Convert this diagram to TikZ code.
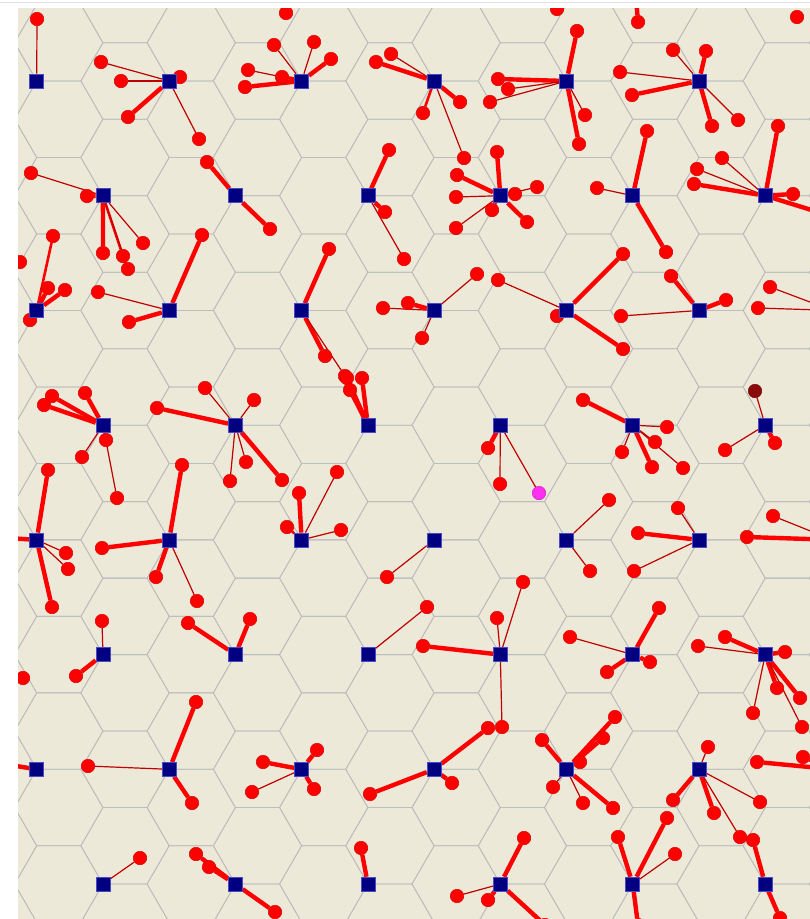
\documentclass[tikz,border=0pt]{standalone}
\definecolor{panel}{HTML}{ECE9D8}
\definecolor{hexline}{HTML}{BDBDBD}
\definecolor{station}{HTML}{000080}
\definecolor{stationrim}{HTML}{4A4AC8}
\definecolor{linkdark}{HTML}{C00000}
\definecolor{pickuser}{HTML}{FF30F0}
\definecolor{deaduser}{HTML}{8B0A0A}
\pgfdeclarelayer{base}
\pgfdeclarelayer{links}
\pgfdeclarelayer{top}
\pgfsetlayers{base,links,main,top}

\tikzset{
  bs/.style={rectangle,draw=stationrim,line width=0.6pt,fill=station,minimum size=14pt,inner sep=0pt},
  ue/.style={circle,fill=red,draw=red!85!black,line width=0.5pt,minimum size=13.5pt,inner sep=0pt},
  lk1/.style={draw=linkdark,line width=1.2pt},
  lk2/.style={draw=red,line width=2.6pt},
  lk3/.style={draw=red,line width=4.4pt},
}

\begin{document}
\begin{tikzpicture}[x=1pt,y=-1pt]
  \useasboundingbox (0,0) rectangle (810,919);

  \begin{pgfonlayer}{base}
    \fill[white] (0,0) rectangle (810,919);
    \fill[panel] (17.5,8) rectangle (810,919);
    % hexagonal cells
    \begin{scope}
      \clip (17.5,8) rectangle (810,919);
      \foreach \i in {0,...,13}{
        \foreach \j in {-2,...,12}{
          \pgfmathsetmacro\cx{-7.45+66.23*\i}
          \pgfmathsetmacro\cy{81+76.48*\j+38.24*mod(\i,2)}
          \draw[hexline,line width=0.8pt] (\cx,\cy) ++(0:44.15) -- ++(120:44.15) -- ++(180:44.15)
            -- ++(240:44.15) -- ++(300:44.15) -- ++(0:44.15) -- cycle;
        }
      }
    \end{scope}
  \end{pgfonlayer}

  % base stations (row r, column c)
  \begin{pgfonlayer}{top}
    \foreach \r in {0,...,7}{
      \foreach \c in {0,...,5}{
        \pgfmathsetmacro\bx{36.7+132.46*\c+66.23*mod(\r,2)}
        \pgfmathsetmacro\by{81+114.72*\r}
        \node[bs] (B\r\c) at (\bx,\by) {};
      }
    }
  \end{pgfonlayer}

  % stations just outside the panel
  \coordinate (T4) at (633.4,-33.7);
  \coordinate (R2) at (832.3,310.4);
  \coordinate (R4) at (832.3,539.8);
  \coordinate (R6) at (832.3,769.2);

  % users: station/x/y/link weight
  \foreach \b/\x/\y/\w [count=\n] in {
    B00/37/19/1,
    B01/101/62/1, B01/121/81/1, B01/128/117/3, B01/199/139/1, B01/180/77/2,
    B02/245/87/3, B02/248/70/1, B02/274/45/1, B02/282/77/3, B02/314/42/1, B02/331/59/3,
    B03/376/62/3, B03/391/54/1, B03/460/102/3, B03/423/113/2, B03/464/158/1,
    B04/577/31/3, B04/585/115/1, B04/579/144/3, B04/498/79/3, B04/508/89/1, B04/490/102/1,
    B05/673/50/1, B05/706/51/3, B05/620/72/1, B05/632/95/3, B05/712/126/3, B05/738/120/1,
    T4/638/22/3,
    B10/31/173/1, B10/87/196/3, B10/103/253/3, B10/123/256/2, B10/128/269/1, B10/143/243/1,
    B11/207/162/3, B11/270/229/3,
    B12/389/150/3, B12/385/212/3, B12/404/259/1,
    B13/497/152/3, B13/457/175/3, B13/456/197/1, B13/492/210/2, B13/456/228/1,
    B13/515/194/2, B13/537/187/1, B13/527/222/3,
    B14/647/131/3, B14/597/188/1, B14/666/252/3,
    B15/778/126/3, B15/722/158/1, B15/697/169/1, B15/694/184/3, B15/793/194/3, B15/818/212/3,
    B20/53/236/2, B20/48/288/3, B20/65/290/3, B20/30/320/2,
    B21/202/235/3, B21/98/292/1, B21/129/322/3,
    B22/329/249/3, B22/325/356/3, B22/345/376/1,
    B23/383/308/1, B23/408/303/3, B23/422/338/1, B23/477/274/1,
    B24/623/254/3, B24/623/349/3, B24/557/316/3, B24/498/280/1,
    B25/671/276/3, B25/726/300/3, B25/621/316/1,
    R2/770/287/1, R2/758/308/1,
    B30/52/396/3, B30/44/405/3, B30/85/393/3, B30/106/440/2, B30/82/457/1, B30/117/498/1,
    B31/157/408/3, B31/205/388/1, B31/254/400/1, B31/246/462/1, B31/230/481/1, B31/282/480/3,
    B32/347/378/3, B32/362/378/3, B32/350/390/3,
    B33/488/448/3, B33/500/484/1,
    B34/583/400/3, B34/667/427/1, B34/655/442/1, B34/622/452/1, B34/652/467/3, B34/683/468/1,
    B35/775/443/3, B35/725/450/1,
    B40/48/470/3, B40/52/607/3, B40/66/553/1, B40/68/569/1, B40/8/538/3,
    B41/182/465/3, B41/102/548/3, B41/156/577/3, B41/197/601/1,
    B42/299/493/3, B42/287/527/2, B42/337/472/1, B42/341/530/1,
    B43/387/577/1,
    B44/609/500/1, B44/590/571/1,
    B45/678/508/1, B45/638/533/3, B45/634/571/1,
    R4/747/537/3, R4/773/516/1,
    B50/102/621/1, B50/76/676/3,
    B51/188/623/3, B51/250/619/3,
    B52/427/607/1,
    B53/423/646/3, B53/497/618/1, B53/523/582/1, B53/502/727/1,
    B54/659/608/3, B54/570/637/1, B54/607/672/3, B54/650/662/3,
    B55/725/637/3, B55/698/646/1, B55/785/652/3, B55/777/688/3, B55/800/698/3, B55/753/713/1, B55/802/727/1,
    B60/10/765/3,
    B61/88/766/1, B61/196/702/3, B61/192/803/3,
    B62/317/750/3, B62/314/789/3, B62/263/762/3, B62/252/792/1,
    B63/370/794/3, B63/452/783/3, B63/488/728/3,
    B64/615/717/3, B64/603/738/3, B64/580/762/2, B64/553/787/1, B64/583/803/1, B64/613/808/3, B64/542/740/3,
    B65/708/747/1, B65/673/800/3, B65/714/813/3, B65/760/802/1, B65/740/837/1,
    R6/757/762/3, R6/803/757/3,
    B70/140/858/1,
    B71/196/854/3, B71/209/867/3, B71/275/912/3,
    B72/361/848/3,
    B73/524/838/3, B73/457/896/1, B73/488/900/3, B73/545/925/3,
    B74/618/837/3, B74/667/818/3, B74/675/854/1, B74/638/925/3,
    B75/753/840/3, B75/780/918/3}{
    \node[ue] (u\n) at (\x,\y) {};
    \begin{pgfonlayer}{links}
      \draw[lk\w] (\b) -- (u\n);
    \end{pgfonlayer}
  }

  % users whose link leaves the panel
  \foreach \x/\y [count=\n] in {286/13, 557/9, 797/17, 20/262, 23/678}{
    \node[ue] (v\n) at (\x,\y) {};
  }

  % highlighted users
  \node[ue,fill=pickuser,draw=pickuser!80!black] (um) at (539,493) {};
  \node[ue,fill=deaduser,draw=deaduser!80!black] (ud) at (755,391) {};
  \begin{pgfonlayer}{links}
    \draw[lk1] (B33) -- (um);
    \draw[lk1] (B35) -- (ud);
  \end{pgfonlayer}

  % white frame over the panel edge
  \begin{pgfonlayer}{top}
    \fill[white] (0,0) rectangle (17.5,919);
    \fill[white] (0,0) rectangle (810,8);
    \draw[gray!25,line width=1pt] (0,2.5) -- (810,2.5);
  \end{pgfonlayer}
\end{tikzpicture}
\end{document}
